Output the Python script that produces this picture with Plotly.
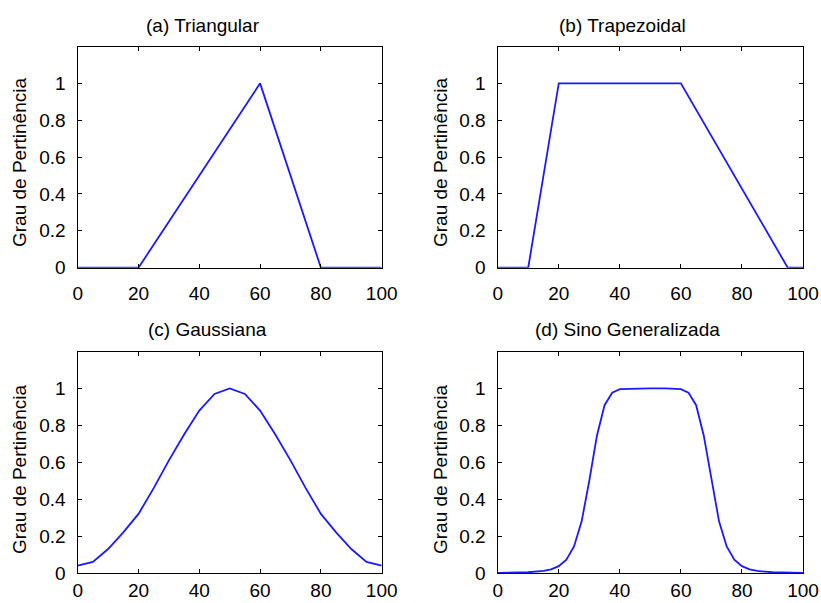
import plotly.graph_objects as go

# ---- data ----
tri_x = [0, 20, 60, 80, 100]
tri_y = [0, 0, 1, 0, 0]

trap_x = [0, 10, 20, 60, 95, 100]
trap_y = [0, 0, 1, 1, 0, 0]

gauss_x = [0, 5, 10, 15, 20, 25, 30, 35, 40, 45, 50, 55, 60, 65, 70, 75, 80, 85, 90, 95, 100]
gauss_y = [0.04, 0.06, 0.13, 0.22, 0.32, 0.46, 0.61, 0.75, 0.88, 0.97, 1.0,
           0.97, 0.88, 0.75, 0.61, 0.46, 0.32, 0.22, 0.13, 0.06, 0.04]

bell_x = [0, 10, 15, 17.5, 20, 22.5, 25, 27.5, 30, 32.5, 35, 37.5, 40, 45, 50,
          55, 60, 62.5, 65, 67.5, 70, 72.5, 75, 77.5, 80, 82.5, 85, 90, 100]
bell_y = [0, 0.004, 0.011, 0.02, 0.037, 0.072, 0.144, 0.28, 0.5, 0.744, 0.909, 0.977, 0.996, 1.0, 1.0,
          1.0, 0.996, 0.977, 0.909, 0.744, 0.5, 0.28, 0.144, 0.072, 0.037, 0.02, 0.011, 0.004, 0]

titles = ["(a) Triangular", "(b) Trapezoidal", "(c) Gaussiana", "(d) Sino Generalizada"]
y_label = "Grau de Pertinência"
x_ticks = [0, 20, 40, 60, 80, 100]
y_ticks = [0, 0.2, 0.4, 0.6, 0.8, 1]
y_tick_text = ["0", "0.2", "0.4", "0.6", "0.8", "1"]

series = [(tri_x, tri_y), (trap_x, trap_y), (gauss_x, gauss_y), (bell_x, bell_y)]

W, H = 821, 603
# panel pixel boxes: (left, right, top, bottom)
boxes = [(77.7, 381.7, 46.5, 267.7), (497.7, 803.0, 46.5, 267.7),
         (77.7, 381.7, 351.5, 573.0), (497.7, 803.0, 351.5, 573.0)]
title_pos = [(203, 25), (622, 25), (207, 330), (627, 330)]
ylab_pos = [(19, 163), (440, 163), (19, 470), (440, 470)]
x_standoff = [8, 8, 0, 0]

FONT = "Liberation Sans, Arial, sans-serif"
FS = 19


def px(x):
    return x / W


def py(y):
    return 1 - y / H


fig = go.Figure()
layout = dict(width=W, height=H, margin=dict(l=0, r=0, t=0, b=0, pad=0), autosize=False,
              paper_bgcolor="white", plot_bgcolor="white", showlegend=False,
              font=dict(family=FONT, size=FS, color="black"))
annotations = []
for i, ((xs, ys), (l, r, t, b)) in enumerate(zip(series, boxes)):
    n = "" if i == 0 else str(i + 1)
    fig.add_trace(go.Scatter(x=xs, y=ys, mode="lines",
                             line=dict(color="#1a1aff", width=1.8),
                             xaxis="x" + n, yaxis="y" + n, hoverinfo="skip"))
    layout["xaxis" + n] = dict(domain=[px(l), px(r)], range=[0, 100], anchor="y" + n,
                               automargin=False,
                               tickvals=x_ticks, ticks="inside", ticklen=4, tickcolor="black",
                               showline=True, linecolor="black", linewidth=1.4, mirror="ticks",
                               showgrid=False, zeroline=False, ticklabelstandoff=x_standoff[i],
                               tickfont=dict(size=FS, family=FONT, color="black"))
    layout["yaxis" + n] = dict(domain=[py(b), py(t)], range=[0, 1.2], anchor="x" + n,
                               automargin=False,
                               tickvals=y_ticks, ticktext=y_tick_text, ticks="inside", ticklen=4,
                               tickcolor="black", showline=True, linecolor="black", linewidth=1.4,
                               mirror="ticks", showgrid=False, zeroline=False, ticklabelstandoff=7,
                               tickfont=dict(size=FS, family=FONT, color="black"))
    tx, ty = title_pos[i]
    annotations.append(dict(text=titles[i], x=px(tx), y=py(ty), xref="paper", yref="paper",
                            xanchor="center", yanchor="middle", showarrow=False,
                            font=dict(size=FS, family=FONT, color="black")))
    lx, ly = ylab_pos[i]
    annotations.append(dict(text=y_label, x=px(lx), y=py(ly), xref="paper", yref="paper",
                            xanchor="center", yanchor="middle", showarrow=False, textangle=-90,
                            font=dict(size=FS, family=FONT, color="black")))
layout["annotations"] = annotations
fig.update_layout(**layout)
fig.write_html("out.html", config={"displayModeBar": False},
               post_script="document.body.style.margin='0';document.body.style.overflow='hidden';")
